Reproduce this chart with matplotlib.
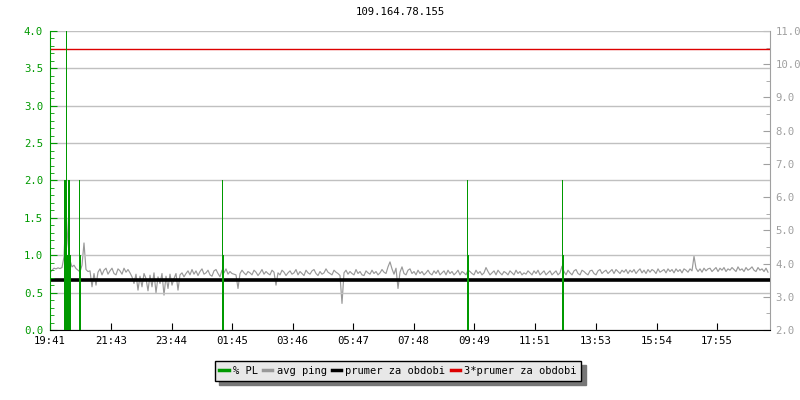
import matplotlib
matplotlib.use("Agg")
import matplotlib.pyplot as plt
from matplotlib.ticker import MultipleLocator, FormatStrFormatter
from matplotlib.lines import Line2D

plt.rcParams['font.family'] = ['DejaVu Sans Mono']

title = "109.164.78.155"
tick_labels = ["19:41", "21:43", "23:44", "01:45", "03:46", "05:47",
               "07:48", "09:49", "11:51", "13:53", "15:54", "17:55"]
tick_minutes = [0, 122, 243, 364, 485, 606, 727, 848, 970, 1092, 1213, 1334]
span_minutes = 1440

# packet loss events (minute offset, % PL), 2-minute samples
pl_minutes = [28, 30, 32, 34, 36, 38, 40, 58, 60, 344, 346, 834, 836, 1024, 1026]
pl_values = [2.0, 2.0, 4.0, 1.0, 2.0, 2.0, 1.0, 2.0, 1.0, 2.0, 1.0, 2.0, 1.0, 2.0, 1.0]
pl_step = 2

# average ping (ms), one sample every 4 minutes
ping_step = 4
avg_ping = [
    3.72, 3.80, 3.86, 3.84, 3.87, 3.85, 3.88, 4.20, 5.60, 4.60,
    4.10, 3.90, 3.95, 3.85, 3.80, 3.75, 3.95, 4.62, 3.82, 3.76,
    3.78, 3.30, 3.70, 3.35, 3.74, 3.84, 3.66, 3.80, 3.86, 3.68,
    3.78, 3.86, 3.70, 3.66, 3.84, 3.78, 3.68, 3.86, 3.74, 3.82,
    3.72, 3.60, 3.40, 3.68, 3.20, 3.62, 3.30, 3.70, 3.55, 3.18,
    3.65, 3.30, 3.72, 3.12, 3.60, 3.40, 3.70, 3.05, 3.62, 3.25,
    3.68, 3.35, 3.55, 3.70, 3.20, 3.66, 3.72, 3.60, 3.70, 3.78,
    3.66, 3.82, 3.68, 3.78, 3.64, 3.76, 3.84, 3.68, 3.72, 3.80,
    3.66, 3.62, 3.78, 3.82, 3.70, 3.60, 3.80, 3.72, 3.84, 3.68,
    3.76, 3.70, 3.68, 3.66, 3.25, 3.70, 3.80, 3.72, 3.66, 3.76,
    3.72, 3.66, 3.80, 3.74, 3.64, 3.72, 3.82, 3.68, 3.76, 3.70,
    3.66, 3.80, 3.74, 3.35, 3.72, 3.66, 3.80, 3.74, 3.64, 3.72,
    3.78, 3.68, 3.72, 3.82, 3.66, 3.76, 3.70, 3.64, 3.80, 3.72,
    3.68, 3.78, 3.82, 3.70, 3.64, 3.76, 3.68, 3.72, 3.84, 3.74,
    3.70, 3.66, 3.80, 3.74, 3.70, 3.64, 2.80, 3.72, 3.80, 3.68,
    3.76, 3.70, 3.66, 3.82, 3.70, 3.76, 3.66, 3.64, 3.78, 3.72,
    3.68, 3.80, 3.70, 3.76, 3.66, 3.72, 3.82, 3.74, 3.70, 3.90,
    4.05, 3.84, 3.68, 3.86, 3.25, 3.74, 3.90, 3.70, 3.66, 3.80,
    3.84, 3.70, 3.76, 3.66, 3.80, 3.70, 3.76, 3.66, 3.72, 3.80,
    3.70, 3.66, 3.78, 3.70, 3.80, 3.66, 3.72, 3.78, 3.66, 3.80,
    3.70, 3.76, 3.66, 3.72, 3.80, 3.66, 3.76, 3.72, 3.66, 3.80,
    3.76, 3.70, 3.66, 3.80, 3.70, 3.76, 3.66, 3.72, 3.88, 3.76,
    3.66, 3.72, 3.78, 3.66, 3.80, 3.72, 3.66, 3.76, 3.72, 3.66,
    3.78, 3.72, 3.66, 3.80, 3.70, 3.76, 3.66, 3.72, 3.68, 3.78,
    3.72, 3.66, 3.78, 3.70, 3.80, 3.66, 3.72, 3.78, 3.66, 3.72,
    3.78, 3.66, 3.72, 3.78, 3.66, 3.72, 3.92, 3.76, 3.66, 3.80,
    3.72, 3.66, 3.78, 3.82, 3.70, 3.66, 3.80, 3.76, 3.70, 3.66,
    3.78, 3.80, 3.70, 3.66, 3.78, 3.82, 3.70, 3.76, 3.80, 3.70,
    3.76, 3.82, 3.70, 3.82, 3.76, 3.70, 3.80, 3.74, 3.82, 3.70,
    3.80, 3.74, 3.82, 3.70, 3.78, 3.84, 3.72, 3.80, 3.70, 3.82,
    3.74, 3.82, 3.78, 3.70, 3.84, 3.74, 3.78, 3.82, 3.72, 3.84,
    3.76, 3.82, 3.72, 3.84, 3.76, 3.82, 3.72, 3.84, 3.80, 3.74,
    3.84, 3.78, 4.22, 3.86, 3.76, 3.84, 3.74, 3.86, 3.78, 3.84,
    3.86, 3.76, 3.82, 3.88, 3.76, 3.86, 3.80, 3.88, 3.76, 3.84,
    3.80, 3.88, 3.82, 3.76, 3.90, 3.80, 3.84, 3.76, 3.88, 3.80,
    3.84, 3.90, 3.80, 3.76, 3.88, 3.80, 3.84, 3.76, 3.86, 3.74,
]
mean_ping = 3.49

GREEN = "#009900"
GRAY = "#999999"
AXGRAY = "#a0a0a0"
FS = 7.7

fig = plt.figure(figsize=(8, 4), dpi=100)
ax = fig.add_axes([0.0625, 0.175, 0.9, 0.7475])
ax2 = ax.twinx()
ax.set_zorder(ax2.get_zorder() + 1)
ax.patch.set_visible(False)

# right axis: ping + mean lines
ping_x = [i * ping_step for i in range(len(avg_ping))]
ax2.plot(ping_x, avg_ping, color=GRAY, lw=0.85, zorder=2)
ax2.axhline(mean_ping, color="black", lw=2.6, zorder=3)
ax2.axhline(3 * mean_ping, color="#dd0000", lw=1, zorder=3)
ax2.set_ylim(2.0, 11.0)
ax2.yaxis.set_major_locator(MultipleLocator(1.0))
ax2.yaxis.set_minor_locator(MultipleLocator(0.5))
ax2.yaxis.set_major_formatter(FormatStrFormatter("%.1f"))
ax2.tick_params(axis='y', which='major', direction='in', length=5, color=AXGRAY,
                labelcolor=AXGRAY, labelsize=FS, pad=4)
ax2.tick_params(axis='y', which='minor', direction='in', length=3, color=AXGRAY)

# left axis: packet loss
ax.bar(pl_minutes, pl_values, width=pl_step, align='edge', color=GREEN,
       linewidth=0, zorder=4)
ax.set_ylim(0, 4.0)
ax.set_xlim(0, span_minutes)
ax.yaxis.set_major_locator(MultipleLocator(0.5))
ax.yaxis.set_minor_locator(MultipleLocator(0.1))
ax.yaxis.set_major_formatter(FormatStrFormatter("%.1f"))
ax.tick_params(axis='y', which='major', direction='in', length=5, color=GREEN,
               labelcolor=GREEN, labelsize=FS, pad=5)
ax.tick_params(axis='y', which='minor', direction='in', length=3, color=GREEN)
ax.set_xticks(tick_minutes)
ax.set_xticklabels(tick_labels)
ax.tick_params(axis='x', direction='in', length=5, color='black',
               labelcolor='black', labelsize=FS, pad=4)
ax.grid(axis='y', which='major', color="#c0c0c0", lw=1, zorder=0)
ax.set_axisbelow(True)

for a in (ax, ax2):
    a.spines['top'].set_visible(False)
ax.spines['left'].set_color(GREEN)
ax.spines['bottom'].set_color('black')
ax.spines['right'].set_visible(False)
ax2.spines['left'].set_visible(False)
ax2.spines['bottom'].set_visible(False)
ax2.spines['right'].set_color(AXGRAY)

fig.text(0.5, 0.97, title, ha='center', va='center', fontsize=FS, color='black')

handles = [Line2D([], [], color=GREEN, lw=2.5),
           Line2D([], [], color=GRAY, lw=2.5),
           Line2D([], [], color='black', lw=2.5),
           Line2D([], [], color='#dd0000', lw=2.5)]
labels = ["% PL", "avg ping", "prumer za obdobi", "3*prumer za obdobi"]
leg = fig.legend(handles, labels, loc='center', bbox_to_anchor=(0.4975, 0.0725),
                 ncol=4, fontsize=7.5, handlelength=0.9, handletextpad=0.4,
                 columnspacing=0.5, borderpad=0.45, fancybox=False,
                 frameon=True, edgecolor='black', facecolor='#e8e8e8',
                 shadow={'color': '#777777', 'alpha': 1.0, 'ox': 3, 'oy': -3})
leg.get_frame().set_linewidth(1)
leg.get_frame().set_alpha(1)

fig.savefig("out.png", dpi=100)
